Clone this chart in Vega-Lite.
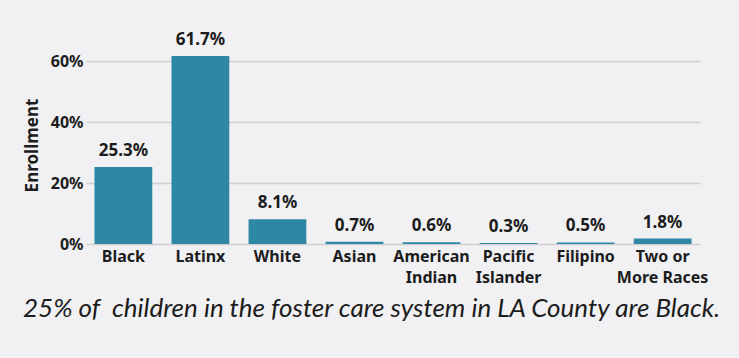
{
  "$schema": "https://vega.github.io/schema/vega-lite/v6.json",
  "autosize": {"type": "none"},
  "width": 614,
  "height": 198,
  "padding": {"left": 86, "top": 46, "right": 39, "bottom": 114},
  "background": "#f1f1f3",
  "title": {
    "text": "25% of\u00a0 children in the foster care system in LA County are Black.",
    "orient": "bottom",
    "anchor": "start",
    "frame": "group",
    "dx": -63,
    "offset": 11,
    "font": "Lato",
    "fontStyle": "italic",
    "fontWeight": "normal",
    "fontSize": 26,
    "color": "#1c1c1c"
  },
  "data": {
    "values": [
      {"group": "Black", "pct": 0.253},
      {"group": "Latinx", "pct": 0.617},
      {"group": "White", "pct": 0.081},
      {"group": "Asian", "pct": 0.007},
      {"group": "American|Indian", "pct": 0.006},
      {"group": "Pacific|Islander", "pct": 0.003},
      {"group": "Filipino", "pct": 0.005},
      {"group": "Two or|More Races", "pct": 0.018}
    ]
  },
  "encoding": {
    "x": {
      "field": "group",
      "type": "nominal",
      "sort": null,
      "scale": {"paddingInner": 0.25, "paddingOuter": 0.11},
      "axis": {
        "title": null,
        "labelAngle": 0,
        "labelExpr": "split(datum.value, '|')",
        "labelFont": "Noto Sans",
        "labelFontWeight": "bold",
        "labelFontSize": 16,
        "labelColor": "#1c1c1c",
        "labelLineHeight": 21,
        "labelPadding": 4,
        "ticks": false,
        "domain": false,
        "grid": false
      }
    },
    "y": {
      "field": "pct",
      "type": "quantitative",
      "scale": {"domain": [0, 0.65], "nice": false},
      "axis": {
        "title": "Enrollment",
        "titleFont": "Noto Sans",
        "titleFontWeight": "bold",
        "titleFontSize": 17,
        "titleColor": "#1c1c1c",
        "titlePadding": 9,
        "values": [0, 0.2, 0.4, 0.6],
        "format": ".0%",
        "labelFont": "Noto Sans",
        "labelFontWeight": "bold",
        "labelFontSize": 16,
        "labelColor": "#1c1c1c",
        "labelPadding": 3,
        "ticks": false,
        "domain": false,
        "grid": true,
        "gridColor": "#cfcfd1",
        "gridWidth": 1.5
      }
    }
  },
  "layer": [
    {"mark": {"type": "bar", "color": "#2e87a3"}},
    {
      "mark": {
        "type": "text",
        "dy": -7,
        "baseline": "bottom",
        "font": "Noto Sans",
        "fontWeight": "bold",
        "fontSize": 17,
        "color": "#1c1c1c"
      },
      "encoding": {
        "text": {"field": "pct", "type": "quantitative", "format": ".1%"}
      }
    }
  ],
  "config": {"view": {"stroke": null}}
}
